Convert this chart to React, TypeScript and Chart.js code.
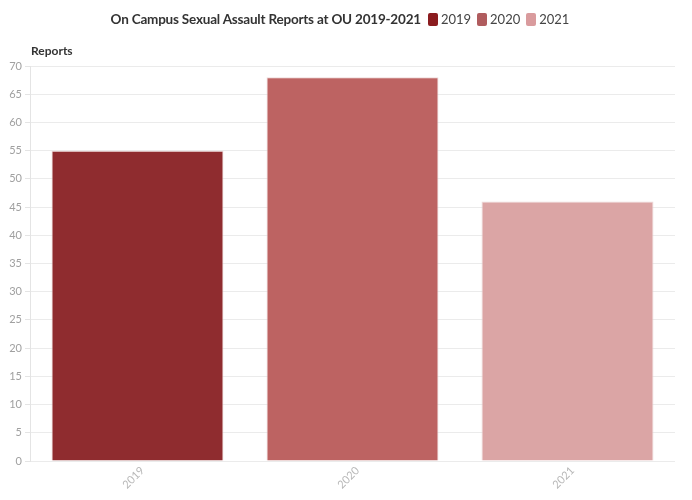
import React, { useEffect, useRef } from "react";
import { Chart, registerables } from "chart.js";

Chart.register(...registerables);

const title = "On Campus Sexual Assault Reports at OU 2019-2021";
const yAxisTitle = "Reports";
const years = ["2019", "2020", "2021"];
const reports = [55, 68, 46];
const barColors = ["#8f2c2f", "#bd6362", "#dba5a5"];
const legendColors = ["#8b1c1f", "#b05c5e", "#d99b9d"];
const yTicks = { min: 0, max: 70, step: 5 };

const FONT = "Lato, 'Noto Sans', sans-serif";

const App: React.FC = () => {
  const canvasRef = useRef<HTMLCanvasElement | null>(null);

  useEffect(() => {
    if (!canvasRef.current) return;
    const chart = new Chart(canvasRef.current, {
      type: "bar",
      data: {
        labels: years,
        datasets: [
          {
            label: "Reports",
            data: reports,
            backgroundColor: barColors,
            borderColor: "rgba(235, 215, 215, 0.9)",
            borderWidth: 1,
            barPercentage: 0.8,
            categoryPercentage: 1,
          },
        ],
      },
      options: {
        animation: false,
        responsive: false,
        maintainAspectRatio: false,
        layout: { padding: { top: 66, right: 17, left: 0, bottom: 0 } },
        plugins: {
          legend: { display: false },
          title: { display: false },
          tooltip: { enabled: false },
        },
        scales: {
          x: {
            afterFit: (axis: any) => {
              axis.height = 39;
            },
            grid: { display: false },
            border: { display: false },
            ticks: {
              color: "#b8b8b8",
              font: { family: FONT, size: 11 },
              minRotation: 45,
              maxRotation: 45,
              padding: -5,
              labelOffset: 5,
            },
          },
          y: {
            min: yTicks.min,
            max: yTicks.max,
            afterFit: (axis: any) => {
              axis.width = 30;
            },
            border: { display: true, color: "#e4e4e4" },
            grid: { color: "#ebebeb", tickLength: 5, tickColor: "#e4e4e4" },
            ticks: {
              stepSize: yTicks.step,
              color: "#a0a0a0",
              font: { family: FONT, size: 11 },
              padding: 3,
            },
          },
        },
      },
    });
    return () => {
      chart.destroy();
    };
  }, []);

  return (
    <div
      style={{
        position: "absolute",
        left: 0,
        top: 0,
        width: 692,
        height: 500,
        background: "#ffffff",
        fontFamily: FONT,
      }}
    >
      <canvas ref={canvasRef} width={692} height={500} style={{ position: "absolute", left: 0, top: 0 }} />
      <div
        style={{
          position: "absolute",
          top: 10,
          left: 0,
          width: 692,
          display: "flex",
          justifyContent: "center",
          alignItems: "center",
          height: 18,
          transform: "translateX(-6px)",
        }}
      >
        <span style={{ fontWeight: 700, fontSize: 13.5, letterSpacing: -0.2, color: "#333" }}>{title}</span>
        {years.map((y, i) => (
          <span key={y} style={{ display: "flex", alignItems: "center", marginLeft: i === 0 ? 7 : 6 }}>
            <span
              style={{
                display: "inline-block",
                width: 10,
                height: 13,
                borderRadius: 2,
                background: legendColors[i],
                marginRight: 3,
              }}
            />
            <span style={{ fontSize: 13, color: "#444" }}>{y}</span>
          </span>
        ))}
      </div>
      <div
        style={{
          position: "absolute",
          left: 31,
          top: 43,
          fontWeight: 700,
          fontSize: 12,
          color: "#333",
        }}
      >
        {yAxisTitle}
      </div>
    </div>
  );
};

export default App;
